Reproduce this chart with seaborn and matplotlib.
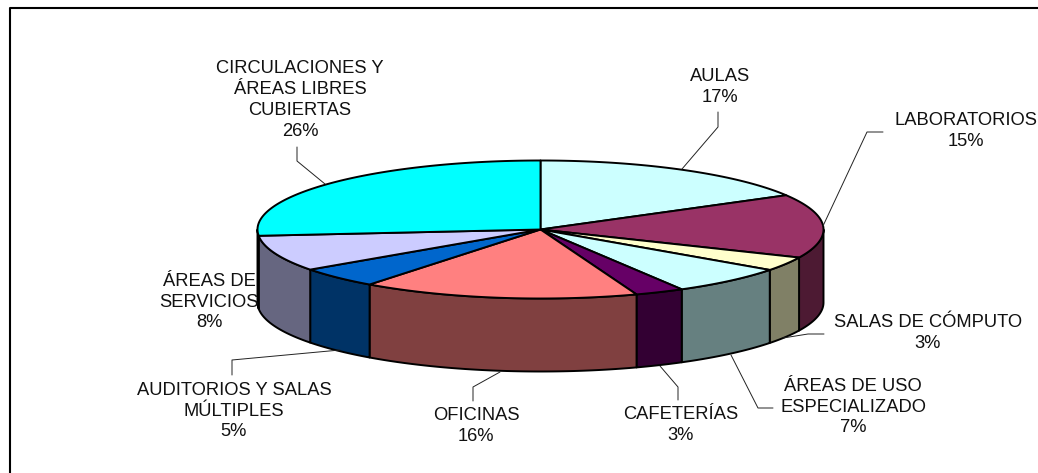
import numpy as np
import seaborn as sns
import matplotlib.pyplot as plt

categories = ['AULAS', 'LABORATORIOS', 'SALAS DE CÓMPUTO', 'ÁREAS DE USO\nESPECIALIZADO', 'CAFETERÍAS',
              'OFICINAS', 'AUDITORIOS Y SALAS\nMÚLTIPLES', 'ÁREAS DE\nSERVICIOS', 'CIRCULACIONES Y\nÁREAS LIBRES\nCUBIERTAS']
shares = [16.7, 14.9, 3.3, 6.7, 2.8, 15.8, 4.8, 8.4, 26.4]
top_colors = ['#CCFFFF', '#993366', '#FFFFCC', '#CCFFFF', '#660066', '#FF8080', '#0066CC', '#CCCCFF', '#00FFFF']

# Label centres and leader lines, in pixels of the picture
label_xy = [(720, 87), (966, 131), (928, 333), (853, 407), (681, 425), (476, 426), (234, 411), (209, 302), (300, 100)]
leaders = [[(718, 112), (718, 127), (682, 169)],
           [(883, 132), (867, 132), (823, 226)],
           [(824, 334), (808, 334), (783, 338)],
           [(731, 355), (758, 408), (773, 408)],
           [(660, 366), (678, 387), (678, 400)],
           [(500, 372), (473, 387), (473, 401)],
           [(340, 350), (232, 360), (232, 375)],
           [],
           [(325, 184), (297, 161), (297, 147)]]

sns.set_theme(style='white')
plt.rcParams['font.family'] = ['Liberation Sans', 'DejaVu Sans']

cx, cy, rx, ry, depth = 540.5, 229.5, 283, 69, 73

fig = plt.figure(figsize=(10.38, 4.73), dpi=100)
ax = fig.add_axes([0, 0, 1, 1])
ax.set_xlim(0, 1038)
ax.set_ylim(473, 0)
ax.axis('off')

# Chart border, only top and left are in the picture
ax.plot([1038, 10, 10], [8.5, 8.5, 473], color='black', lw=1.5)


def rim(t):
    return cx + rx * np.sin(t), cy - ry * np.cos(t)


edges = np.cumsum([0] + shares) / sum(shares) * 2 * np.pi

# Side walls first, only the front half of the rim shows
for i, c in enumerate(top_colors):
    a, b = max(edges[i], np.pi / 2), min(edges[i + 1], 3 * np.pi / 2)
    if a >= b:
        continue
    t = np.linspace(a, b, 80)
    x, y = rim(t)
    side = tuple(v * 0.5 for v in sns.color_palette([c])[0])
    ax.fill(np.r_[x, x[::-1]], np.r_[y, y[::-1] + depth], facecolor=side, edgecolor='black', lw=1.4, joinstyle='round')

# Top slices
for i, c in enumerate(top_colors):
    t = np.linspace(edges[i], edges[i + 1], 120)
    x, y = rim(t)
    ax.fill(np.r_[cx, x], np.r_[cy, y], facecolor=c, edgecolor='black', lw=1.4, joinstyle='round')

for pts in leaders:
    if pts:
        xs, ys = zip(*pts)
        ax.plot(xs, ys, color='#222222', lw=0.7)

for name, val, (lx, ly) in zip(categories, shares, label_xy):
    ax.text(lx, ly, f'{name}\n{val / sum(shares) * 100:.0f}%', ha='center', va='center',
            fontsize=13.2, color='#111111', linespacing=1.3, clip_on=False)

fig.savefig('out.png', dpi=100)
